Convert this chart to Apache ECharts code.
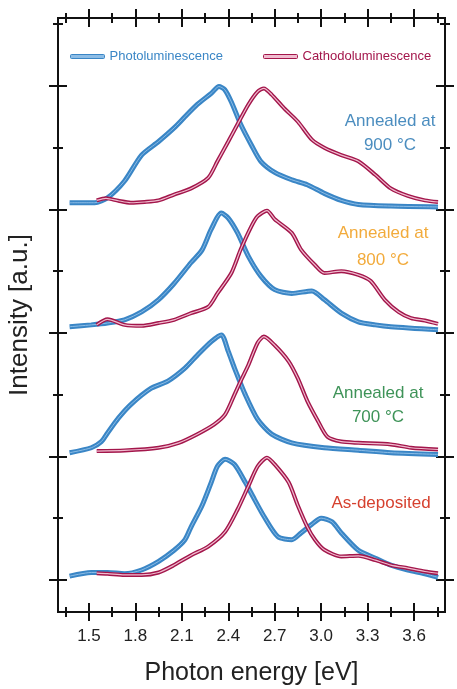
<!DOCTYPE html>
<html>
<head>
<meta charset="utf-8">
<title>PL / CL spectra</title>
<script src="https://cdn.jsdelivr.net/npm/echarts@6/dist/echarts.min.js"></script>
<style>
  html, body { margin: 0; padding: 0; background: #fff; }
  #chart { width: 457px; height: 689px; }
</style>
</head>
<body>
<div id="chart"></div>
<script>
// 4 panels stacked, each spectrum normalised to 1 and shifted by its panel offset
const panelNames = ['As-deposited', 'Annealed at 700 °C', 'Annealed at 800 °C', 'Annealed at 900 °C'];
const offsets = [0, 1, 2, 3];

// as-deposited
const plE_asdep = [1.375, 1.515, 1.62, 1.73, 1.84, 1.95, 2.05, 2.12, 2.16, 2.23, 2.29, 2.33, 2.38, 2.44, 2.51, 2.57, 2.63, 2.72, 2.81, 2.87, 2.94, 3.00, 3.07, 3.13, 3.24, 3.35, 3.45, 3.56, 3.67, 3.755];
const plI_asdep = [0.03, 0.06, 0.06, 0.05, 0.08, 0.15, 0.24, 0.325, 0.43, 0.60, 0.79, 0.92, 0.976, 0.935, 0.79, 0.65, 0.515, 0.35, 0.325, 0.38, 0.45, 0.50, 0.47, 0.38, 0.24, 0.176, 0.12, 0.08, 0.05, 0.02];
const clE_asdep = [1.55, 1.62, 1.73, 1.84, 1.95, 2.05, 2.16, 2.27, 2.38, 2.46, 2.53, 2.59, 2.65, 2.70, 2.79, 2.85, 2.91, 2.96, 3.02, 3.13, 3.24, 3.35, 3.45, 3.56, 3.67, 3.755];
const clI_asdep = [0.054, 0.05, 0.04, 0.04, 0.06, 0.12, 0.20, 0.27, 0.39, 0.57, 0.76, 0.92, 0.99, 0.935, 0.79, 0.60, 0.43, 0.325, 0.244, 0.19, 0.195, 0.16, 0.12, 0.095, 0.068, 0.054];

// 700 °C
const plE_700 = [1.375, 1.515, 1.58, 1.62, 1.69, 1.77, 1.90, 2.01, 2.12, 2.20, 2.29, 2.355, 2.40, 2.44, 2.51, 2.59, 2.68, 2.81, 3.02, 3.24, 3.45, 3.755];
const plI_700 = [0.03, 0.07, 0.12, 0.19, 0.31, 0.42, 0.55, 0.61, 0.715, 0.82, 0.93, 0.984, 0.85, 0.715, 0.50, 0.30, 0.18, 0.11, 0.07, 0.05, 0.03, 0.016];
const clE_700 = [1.55, 1.73, 1.95, 2.08, 2.20, 2.31, 2.38, 2.44, 2.48, 2.53, 2.59, 2.63, 2.70, 2.79, 2.85, 2.91, 2.98, 3.04, 3.13, 3.24, 3.45, 3.58, 3.755];
const clI_700 = [0.043, 0.048, 0.07, 0.11, 0.18, 0.26, 0.34, 0.50, 0.61, 0.74, 0.92, 0.97, 0.90, 0.77, 0.63, 0.45, 0.285, 0.16, 0.12, 0.11, 0.097, 0.07, 0.056];

// 800 °C
const plE_800 = [1.375, 1.515, 1.62, 1.73, 1.84, 1.95, 2.05, 2.16, 2.23, 2.29, 2.355, 2.40, 2.46, 2.53, 2.61, 2.70, 2.81, 2.94, 3.02, 3.13, 3.24, 3.35, 3.45, 3.755];
const plI_800 = [0.05, 0.065, 0.08, 0.106, 0.17, 0.27, 0.40, 0.57, 0.67, 0.84, 0.97, 0.93, 0.81, 0.62, 0.46, 0.35, 0.32, 0.34, 0.27, 0.16, 0.09, 0.065, 0.05, 0.025];
const clE_800 = [1.55, 1.62, 1.73, 1.84, 1.95, 2.05, 2.16, 2.27, 2.33, 2.42, 2.48, 2.55, 2.59, 2.65, 2.70, 2.81, 2.87, 2.96, 3.02, 3.13, 3.24, 3.32, 3.41, 3.50, 3.58, 3.67, 3.755];
const clI_800 = [0.065, 0.11, 0.065, 0.057, 0.08, 0.106, 0.16, 0.21, 0.32, 0.485, 0.675, 0.865, 0.946, 0.99, 0.92, 0.81, 0.675, 0.55, 0.485, 0.50, 0.47, 0.42, 0.27, 0.17, 0.12, 0.10, 0.073];

// 900 °C
const plE_900 = [1.375, 1.537, 1.62, 1.73, 1.84, 1.95, 2.05, 2.12, 2.20, 2.29, 2.34, 2.377, 2.42, 2.48, 2.55, 2.61, 2.70, 2.81, 2.91, 3.02, 3.13, 3.24, 3.45, 3.755];
const plI_900 = [0.054, 0.054, 0.094, 0.23, 0.44, 0.55, 0.66, 0.75, 0.85, 0.94, 0.995, 0.97, 0.87, 0.69, 0.52, 0.39, 0.30, 0.24, 0.20, 0.13, 0.073, 0.04, 0.027, 0.02];
const clE_900 = [1.55, 1.61, 1.69, 1.77, 1.86, 1.95, 2.05, 2.16, 2.27, 2.33, 2.40, 2.46, 2.53, 2.59, 2.63, 2.68, 2.76, 2.85, 2.94, 3.02, 3.13, 3.24, 3.35, 3.45, 3.56, 3.67, 3.755];
const clI_900 = [0.073, 0.09, 0.07, 0.054, 0.06, 0.073, 0.12, 0.17, 0.255, 0.39, 0.55, 0.69, 0.85, 0.954, 0.98, 0.93, 0.82, 0.71, 0.565, 0.50, 0.44, 0.39, 0.28, 0.17, 0.11, 0.073, 0.06];

// axis ticks
const xMajor = [1.5, 1.8, 2.1, 2.4, 2.7, 3.0, 3.3, 3.6];
const xMinor = [1.35, 1.65, 1.95, 2.25, 2.55, 2.85, 3.15, 3.45, 3.75];
const yMajor = [0, 1, 2, 3, 4];
const yMinor = [0.5, 1.5, 2.5, 3.5, 4.5];

const plE = [plE_asdep, plE_700, plE_800, plE_900];
const plI = [plI_asdep, plI_700, plI_800, plI_900];
const clE = [clE_asdep, clE_700, clE_800, clE_900];
const clI = [clI_asdep, clI_700, clI_800, clI_900];

const PL = '#3a86c6', PL_IN = '#8dbde6';
const CL = '#a3164b', CL_IN = '#f0bccf';
const FONT = 'Liberation Sans, Arial, sans-serif';

function pairs(xs, ys, off) {
  return xs.map((x, i) => [x, ys[i] + off]);
}

// each curve = thick coloured stroke + thin light core (the "double line" look)
const series = [];
for (let p = 0; p < 4; p++) {
  const pl = pairs(plE[p], plI[p], offsets[p]);
  const cl = pairs(clE[p], clI[p], offsets[p]);
  series.push(
    { name: 'Photoluminescence', type: 'line', data: pl, showSymbol: false, smooth: 0.25,
      lineStyle: { color: PL, width: 5 }, itemStyle: { color: PL }, z: 2 },
    { name: 'pl-core', type: 'line', data: pl, showSymbol: false, smooth: 0.25,
      lineStyle: { color: PL_IN, width: 1 }, z: 3 },
    { name: 'Cathodoluminescence', type: 'line', data: cl, showSymbol: false, smooth: 0.25,
      lineStyle: { color: CL, width: 4 }, itemStyle: { color: CL }, z: 4 },
    { name: 'cl-core', type: 'line', data: cl, showSymbol: false, smooth: 0.25,
      lineStyle: { color: CL_IN, width: 1.2 }, z: 5 }
  );
}

const tickLine = { color: '#111', width: 2 };

function xAx(pos, ticks, len, withLabels) {
  return {
    type: 'value', position: pos, min: 1.3, max: 3.8, offset: len / 2,
    axisLine: { show: false, onZero: false },
    splitLine: { show: false },
    axisTick: { show: true, inside: true, length: len, customValues: ticks, lineStyle: tickLine },
    axisLabel: withLabels
      ? { show: true, customValues: xMajor, margin: 7, fontSize: 17, color: '#222', fontFamily: FONT,
          formatter: v => v.toFixed(1) }
      : { show: false }
  };
}

function yAx(pos, ticks, len) {
  return {
    type: 'value', position: pos, min: -0.26, max: 4.55, offset: len / 2,
    axisLine: { show: false, onZero: false },
    splitLine: { show: false },
    axisTick: { show: true, inside: true, length: len, customValues: ticks, lineStyle: tickLine },
    axisLabel: { show: false }
  };
}

const xAxes = [xAx('bottom', xMajor, 18, true), xAx('bottom', xMinor, 10), xAx('top', xMajor, 18), xAx('top', xMinor, 10)];
xAxes[0].name = 'Photon energy [eV]';
xAxes[0].nameLocation = 'middle';
xAxes[0].nameGap = 40;
xAxes[0].nameTextStyle = { fontSize: 25, color: '#222', fontFamily: FONT };

const yAxes = [yAx('left', yMajor, 18), yAx('left', yMinor, 10), yAx('right', yMajor, 18), yAx('right', yMinor, 10)];
yAxes[0].name = 'Intensity [a.u.]';
yAxes[0].nameLocation = 'middle';
yAxes[0].nameGap = 16;
yAxes[0].nameTextStyle = { fontSize: 26, color: '#222', fontFamily: FONT };

// sample labels at the right of each panel
const labelColors = ['#d6412f', '#3e9358', '#f2ab3c', '#4b8dbf'];
const labelPos = [[381, 503, null], [378, 393, 417], [383, 233, 260], [390, 121, 145]];
const graphics = [];
panelNames.forEach((n, i) => {
  const pos = labelPos[i];
  const lines = pos[2] === null ? [n] : ['Annealed at', n.replace('Annealed at ', '')];
  lines.forEach((t, j) => {
    graphics.push({
      type: 'text', x: pos[0], y: pos[1 + j],
      style: { text: t, fill: labelColors[i], font: '17px ' + FONT, textAlign: 'center', textVerticalAlign: 'middle' }
    });
  });
});

const chart = echarts.init(document.getElementById('chart'));
chart.setOption({
  animation: false,
  grid: { left: 58, right: 12, top: 18, bottom: 77, show: true, borderColor: '#111', borderWidth: 2,
          outerBoundsMode: 'none' },
  legend: [
    { left: 65, top: 45, icon: 'roundRect', itemWidth: 34, itemHeight: 4, itemGap: 5,
      data: [{ name: 'Photoluminescence', textStyle: { color: PL },
               itemStyle: { color: PL_IN, borderColor: PL, borderWidth: 1 } }],
      textStyle: { fontSize: 13, fontFamily: FONT } },
    { left: 258, top: 45, icon: 'roundRect', itemWidth: 34, itemHeight: 4, itemGap: 5,
      data: [{ name: 'Cathodoluminescence', textStyle: { color: CL },
               itemStyle: { color: CL_IN, borderColor: CL, borderWidth: 1 } }],
      textStyle: { fontSize: 13, fontFamily: FONT } }
  ],
  xAxis: xAxes,
  yAxis: yAxes,
  graphic: graphics,
  series: series
});
</script>
</body>
</html>
